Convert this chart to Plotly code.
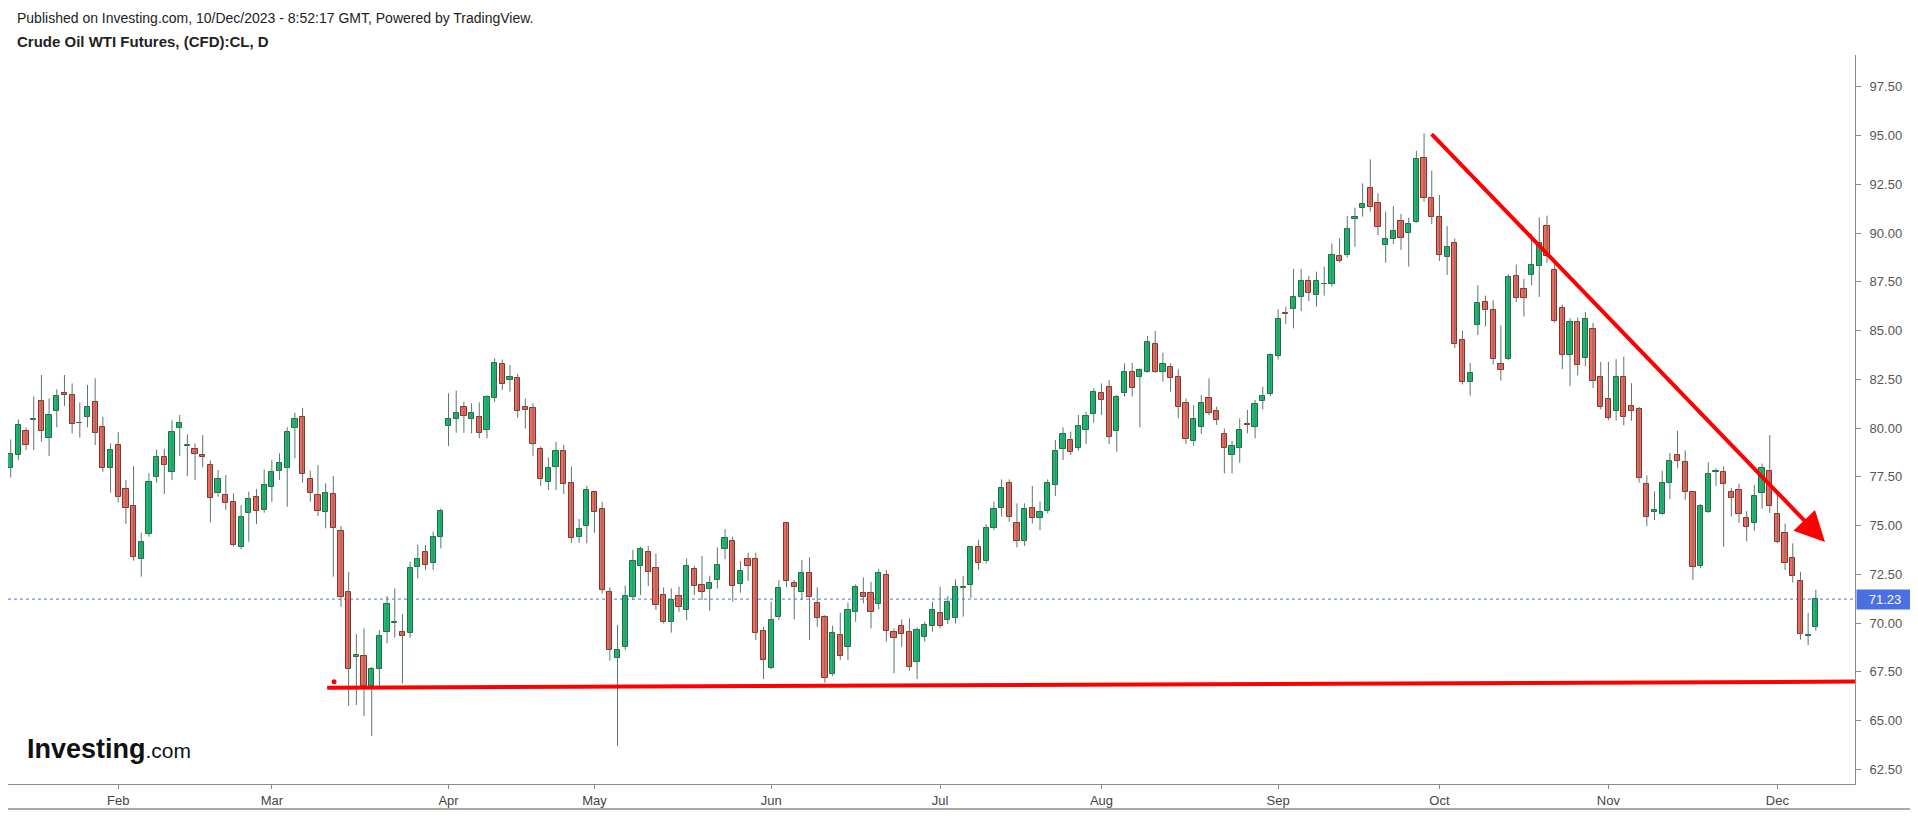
import pandas as pd
import plotly.graph_objects as go

# ---------------- data ----------------
trading_days = [d for d in pd.bdate_range("2023-01-12", "2023-12-08") if d != pd.Timestamp("2023-04-07")]

opens = [77.93,78.62,79.85,80.42,81.39,79.47,80.86,81.81,81.68,80.27,80.57,81.32,80.07,77.97,
         79.11,76.86,76.00,73.27,74.57,77.51,78.53,77.73,80.00,79.09,78.91,78.60,78.10,76.68,76.57,76.19,73.92,75.66,76.48,75.80,
         76.96,77.80,77.93,80.00,80.57,77.37,76.57,75.68,76.63,74.74,71.57,68.27,68.33,66.79,67.64,69.56,70.00,69.56,69.50,72.89,73.66,73.06,74.43,
         80.12,80.48,81.10,80.45,80.58,79.90,81.52,83.27,82.46,82.55,81.10,81.01,78.91,77.22,78.02,78.82,77.16,74.43,74.98,
         76.70,75.83,71.61,68.19,68.75,71.35,72.93,73.64,72.84,71.44,70.07,71.39,70.67,72.77,71.95,71.73,72.21,73.80,74.22,71.99,73.27,73.27,69.61,
         67.68,70.29,75.11,72.04,71.61,72.55,71.01,70.29,67.39,69.40,68.75,70.58,71.52,71.52,70.96,72.46,69.56,69.85,69.56,68.02,69.27,69.85,
         70.50,70.16,70.24,71.80,71.95,73.92,73.20,74.86,75.92,77.20,75.11,74.23,75.88,75.37,75.76,77.08,78.91,79.39,78.96,79.90,80.72,
         81.78,82.09,79.85,81.82,82.89,82.60,82.89,84.31,82.89,83.15,82.60,81.30,79.35,80.07,81.52,80.87,79.69,78.62,78.96,80.21,80.07,81.39,81.74,
         83.71,85.89,86.10,86.74,87.56,86.82,87.37,87.37,88.82,88.87,90.72,91.27,92.29,91.56,89.39,89.70,90.63,89.98,90.58,93.83,91.78,
         90.84,88.75,89.48,84.50,82.34,85.30,86.46,86.03,83.29,83.56,87.79,87.13,87.83,88.29,90.34,88.11,86.18,83.76,85.45,83.58,85.08,82.61,
         81.51,80.87,82.61,81.14,81.00,77.15,75.70,75.61,77.20,78.62,78.25,76.70,72.94,75.69,77.74,77.76,76.70,76.84,75.41,75.14,76.66,77.79,
         75.61,74.64,73.36,72.17,69.32,69.79]
highs = [79.42,80.45,80.04,81.61,82.72,81.52,81.99,82.72,82.29,81.32,82.21,82.55,80.58,79.21,
         79.80,77.34,78.05,74.63,77.68,78.91,78.94,80.40,80.67,79.68,79.21,79.64,78.33,77.85,77.59,76.65,76.05,76.74,76.87,77.88,
         78.36,78.70,80.04,80.79,81.04,77.81,78.10,77.17,77.54,74.98,72.63,69.44,69.73,67.76,69.64,71.39,71.78,70.46,73.15,74.03,74.00,74.69,75.88,
         81.78,81.92,81.35,81.27,81.32,81.69,83.58,83.52,83.23,82.77,81.52,81.27,79.05,78.50,79.30,79.13,78.02,75.34,77.04,
         76.74,76.22,71.83,69.90,71.92,73.75,73.92,73.95,73.57,71.83,71.78,71.87,73.32,72.94,73.44,72.43,73.88,74.82,74.43,73.18,73.61,73.61,69.81,
         71.10,72.21,75.15,72.21,73.23,73.37,71.83,70.41,69.87,70.53,71.05,71.99,72.34,72.12,72.77,72.72,69.73,70.19,70.24,69.78,70.07,71.10,
         71.87,71.39,72.24,72.41,73.95,74.26,75.06,76.23,77.37,77.37,76.14,76.14,77.03,76.23,77.37,79.39,80.04,79.82,80.67,80.84,82.04,
         82.29,82.46,81.70,83.32,83.35,83.07,84.72,84.98,83.87,83.32,83.01,81.52,81.18,81.70,82.55,81.10,79.98,79.34,80.50,80.93,81.44,82.12,83.83,
         86.10,86.23,88.16,88.16,87.80,88.02,88.28,89.47,89.73,90.87,91.30,92.55,93.78,92.04,91.10,91.38,90.98,90.79,94.22,95.11,93.20,
         91.95,90.36,89.72,84.99,83.34,87.32,86.79,86.55,85.27,87.88,88.38,87.65,89.97,90.80,90.89,88.47,86.33,85.63,85.67,85.96,85.39,83.40,
         83.40,83.53,83.67,82.30,81.09,77.57,76.75,77.81,78.73,79.86,78.86,76.75,76.11,78.25,77.94,78.03,76.93,77.15,75.74,77.08,78.18,79.64,
         76.75,75.10,74.09,72.63,70.52,71.71]
lows = [77.47,78.36,78.87,78.87,79.30,78.57,80.04,81.13,79.73,79.51,80.04,79.13,77.76,76.69,
        76.19,75.08,73.20,72.38,74.43,77.20,76.60,77.33,78.56,77.54,77.33,77.99,75.15,76.48,75.80,73.92,73.80,74.17,75.08,75.66,
        76.22,77.34,75.96,78.45,77.20,76.22,75.49,74.86,72.38,70.84,65.76,65.80,65.23,64.21,66.74,68.96,69.26,66.91,69.25,72.29,72.72,72.72,73.83,
        79.08,79.76,79.76,79.73,79.47,79.47,81.35,81.95,81.87,80.53,79.98,78.58,77.03,76.82,76.82,76.62,74.12,74.12,74.09,
        74.63,71.52,68.07,63.69,68.62,71.18,71.44,71.90,70.67,69.98,69.51,70.58,70.15,71.44,71.18,70.63,71.78,73.28,71.10,71.56,72.17,69.13,67.13,
        67.63,70.16,71.83,70.19,71.18,69.13,69.81,66.94,67.29,68.10,68.10,70.07,71.01,69.73,70.70,69.05,67.42,68.79,67.56,67.13,69.05,69.56,
        69.73,69.95,69.98,70.33,71.30,72.75,73.06,74.77,75.46,75.20,73.88,73.95,75.11,74.77,75.63,76.52,78.36,78.62,78.84,79.18,80.28,
        80.67,79.18,78.79,81.61,81.61,80.04,82.84,82.84,82.38,81.87,80.50,79.18,79.10,79.70,80.67,80.16,77.68,77.68,78.22,79.73,79.47,80.96,81.64,
        83.52,85.33,85.11,86.00,86.51,86.23,86.79,87.25,88.48,88.75,89.30,90.84,91.10,89.90,88.48,89.44,89.13,88.28,90.53,91.61,90.46,
        88.57,87.85,84.10,82.24,81.66,84.77,85.21,83.25,82.43,83.49,86.46,85.72,87.32,86.73,88.47,85.41,83.03,82.15,82.70,83.16,82.06,80.96,
        80.41,80.38,80.14,80.38,77.21,74.97,75.28,75.56,76.35,77.94,76.33,72.22,72.81,75.65,77.02,73.91,75.47,75.14,74.19,74.73,75.87,75.65,
        74.09,72.72,72.08,69.15,68.87,69.61]
closes = [78.65,80.14,79.11,80.46,79.83,80.65,81.66,81.68,80.19,80.24,81.08,79.76,77.93,78.87,
          76.48,75.88,73.40,74.17,77.22,78.53,78.09,79.78,80.24,79.13,78.65,78.50,76.40,77.37,76.17,74.00,75.45,76.34,75.76,77.08,
          77.73,78.23,79.78,80.48,77.64,76.69,75.76,76.69,74.89,71.35,67.64,68.39,66.79,67.64,69.35,70.96,70.04,69.33,72.84,73.28,72.97,74.43,75.76,
          80.48,80.79,80.62,80.79,79.76,81.57,83.35,82.26,82.60,80.87,80.93,79.18,77.37,77.93,78.82,77.13,74.38,74.82,76.85,
          75.68,71.69,68.62,68.62,71.39,73.20,73.78,72.64,70.93,70.07,71.18,70.84,72.93,71.90,71.61,72.04,72.97,74.38,71.90,72.69,72.93,69.51,68.10,
          70.16,71.81,72.17,71.83,72.55,71.32,70.24,67.16,69.47,68.33,70.67,71.83,71.35,70.58,72.55,69.59,69.22,69.44,67.76,69.64,69.90,70.67,
          69.85,71.10,71.83,71.85,73.92,73.06,74.86,75.83,76.91,75.46,74.23,75.83,75.37,75.68,77.17,78.82,79.70,78.79,80.12,80.63,81.87,
          81.44,79.56,81.58,82.89,82.04,82.98,84.43,82.89,83.29,82.55,81.10,79.42,80.45,81.30,80.76,80.41,78.96,79.10,79.90,80.17,81.22,81.66,83.75,
          85.59,85.85,86.74,87.54,86.91,87.54,87.41,88.87,88.58,90.19,90.84,91.49,91.32,90.33,89.68,90.10,89.76,90.46,93.78,91.78,90.84,
          88.87,89.30,84.30,82.37,82.83,86.40,86.05,83.56,82.98,87.74,86.69,86.69,88.38,89.48,88.84,85.50,83.76,85.45,83.25,85.60,82.39,81.09,
          80.50,82.61,80.56,80.87,77.45,75.43,75.78,77.20,78.31,78.31,76.70,72.90,76.02,77.66,77.78,77.15,76.42,75.61,74.92,76.51,77.94,75.98,
          74.15,73.09,72.39,69.42,69.40,71.23]

last_price = 71.23
price_ticks = [62.5, 65.0, 67.5, 70.0, 72.5, 75.0, 77.5, 80.0, 82.5, 85.0, 87.5, 90.0, 92.5, 95.0, 97.5]

# analyst drawings: (bar index, price)
support_start = (41.2, 66.68)
support_end = (240.1, 67.0)
support_dot = (42.1, 66.99)
trend_start = (184.8, 95.15)
trend_tip = (236.2, 74.16)

# ---------------- derived ----------------
idx = list(range(len(trading_days)))
month_ticks, month_labels = [], []
for i, d in enumerate(trading_days):
    if i > 0 and d.month != trading_days[i - 1].month:
        month_ticks.append(i)
        month_labels.append(d.strftime("%b"))

up = [c >= o for o, c in zip(opens, closes)]
body_base = [min(o, c) for o, c in zip(opens, closes)]
body_h = [max(abs(c - o), 0.03) for o, c in zip(opens, closes)]
fill = ["#0fc070" if u else "#f5675e" for u in up]
edge = ["#206b46" if u else "#8c2f28" for u in up]

wx, wy = [], []
for i, h, l in zip(idx, highs, lows):
    wx += [i, i, None]
    wy += [l, h, None]

# page has an 8px body margin: figure is 1910x809 placed at (8, 8)
OFF = 8
W, H = 1918 - OFF, 817 - OFF
L_M, R_M, T_M, B_M = 0, 63, 47, 33
PW, PH = W - L_M - R_M, H - T_M - B_M


def px_x(x):  # page pixel -> paper
    return (x - OFF - L_M) / PW


def px_y(y):
    return (H - B_M - (y - OFF)) / PH


FONT = "Liberation Sans, Arial"

fig = go.Figure()
fig.add_trace(go.Scatter(x=wx, y=wy, mode="lines", line=dict(color="#5a7868", width=1),
                         hoverinfo="skip", showlegend=False))
fig.add_trace(go.Bar(x=idx, y=body_h, base=body_base, width=0.68,
                     marker=dict(color=fill, line=dict(color=edge, width=1)),
                     hoverinfo="skip", showlegend=False))
fig.add_trace(go.Scatter(x=[support_dot[0]], y=[support_dot[1]], mode="markers",
                         marker=dict(color="#ff0000", size=5), hoverinfo="skip", showlegend=False))

fig.add_shape(type="line", xref="paper", x0=0, x1=1, yref="y", y0=last_price, y1=last_price,
              line=dict(color="#4f6ff0", width=1, dash="dot"), layer="below")
fig.add_shape(type="line", x0=support_start[0], y0=support_start[1], x1=support_end[0], y1=support_end[1],
              line=dict(color="#ff0000", width=4))
fig.add_annotation(x=trend_tip[0], y=trend_tip[1], ax=trend_start[0], ay=trend_start[1],
                   xref="x", yref="y", axref="x", ayref="y", text="", showarrow=True,
                   arrowhead=2, arrowsize=1.5, arrowwidth=4, arrowcolor="#ff0000", standoff=0)

# outer frame (bottom and right)
fig.add_shape(type="line", xref="paper", yref="paper", x0=px_x(0), x1=px_x(1914), y0=px_y(809), y1=px_y(809),
              line=dict(color="#555555", width=1))
fig.add_shape(type="line", xref="paper", yref="paper", x0=px_x(1913), x1=px_x(1913), y0=px_y(55), y1=px_y(809),
              line=dict(color="#777777", width=1))

# price label
fig.add_annotation(xref="paper", x=1, xanchor="left", xshift=1, yref="y", y=last_price,
                   text="71.23", showarrow=False, bgcolor="#4a6fe3", width=54, height=17,
                   font=dict(family=FONT, size=13, color="white"))

# texts
fig.add_annotation(xref="paper", yref="paper", x=px_x(15), y=px_y(18), xanchor="left", yanchor="middle",
                   text="Published on Investing.com, 10/Dec/2023 - 8:52:17 GMT, Powered by TradingView.",
                   showarrow=False, font=dict(family=FONT, size=14, color="#222222"))
fig.add_annotation(xref="paper", yref="paper", x=px_x(15), y=px_y(42), xanchor="left", yanchor="middle",
                   text="<b>Crude Oil WTI Futures, (CFD):CL, D</b>",
                   showarrow=False, font=dict(family=FONT, size=15, color="#222222"))
fig.add_annotation(xref="paper", yref="paper", x=px_x(25), y=px_y(749), xanchor="left", yanchor="middle",
                   text="<b>Investing</b><span style='font-size:21px'>.com</span>",
                   showarrow=False, font=dict(family=FONT, size=27, color="#111111"))

fig.update_layout(
    width=W, height=H, margin=dict(l=L_M, r=R_M, t=T_M, b=B_M),
    paper_bgcolor="white", plot_bgcolor="white", bargap=0, barmode="overlay",
    xaxis=dict(range=[-0.35, 240.1], tickvals=month_ticks, ticktext=month_labels,
               showgrid=False, zeroline=False, showline=True, linecolor="#8c8c8c", linewidth=1,
               ticks="outside", ticklen=4, tickcolor="#8c8c8c",
               tickfont=dict(family=FONT, size=13, color="#444444")),
    yaxis=dict(range=[61.75, 99.13], side="right", tickvals=price_ticks,
               ticktext=[f"{v:.2f}" for v in price_ticks],
               showgrid=False, zeroline=False, showline=True, linecolor="#8c8c8c", linewidth=1,
               ticks="outside", ticklen=5, tickcolor="#8c8c8c", ticklabelstandoff=6,
               tickfont=dict(family=FONT, size=13, color="#555555")),
)
fig.write_html("out.html")
